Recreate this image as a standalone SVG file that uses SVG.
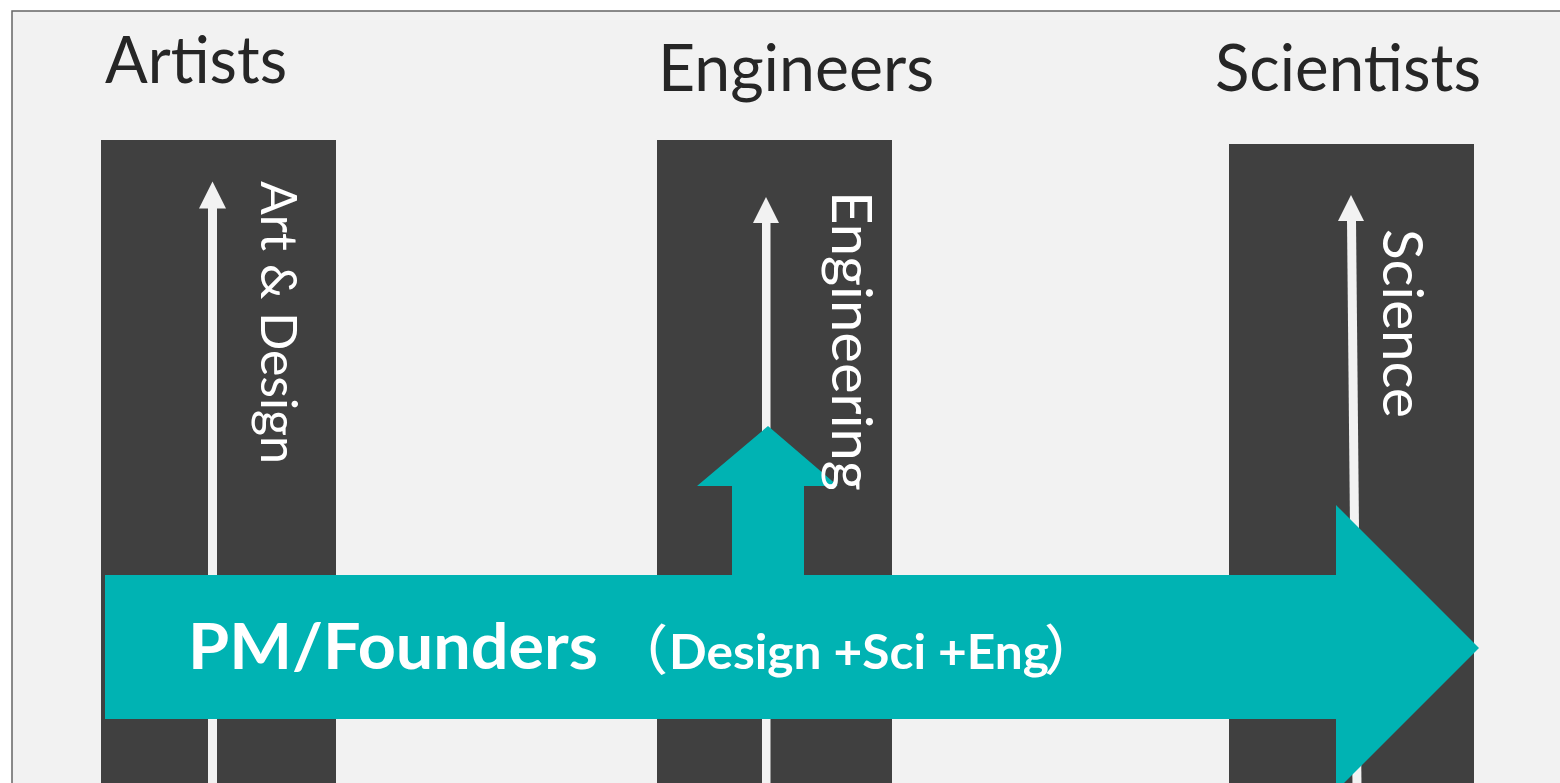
<svg xmlns="http://www.w3.org/2000/svg" width="1560" height="783" viewBox="0 0 1560 783">
  <defs>
    <style>
      .title { font-family: Lato, "Open Sans", sans-serif; font-size: 65px; fill: #262626; }
      .lane { fill: #404040; }
      .track { fill: #f2f2f2; }
      .vlabel { font-family: Lato, "Open Sans", sans-serif; fill: #ffffff; }
      .teal { fill: #00b3b3; }
      .main { font-family: Lato, "Open Sans", "Noto Sans CJK SC", sans-serif; font-weight: bold; fill: #ffffff; }
      .paren { font-family: "Noto Sans CJK SC", "Noto Sans CJK JP", sans-serif; font-weight: 500; fill: #ffffff; }
    </style>
  </defs>

  <!-- canvas and frame -->
  <rect x="0" y="0" width="1560" height="783" fill="#ffffff"/>
  <rect x="12" y="11" width="1560" height="790" fill="#f2f2f2" stroke="#666666" stroke-width="1.5"/>

  <!-- column headings -->
  <g id="artists">
    <text class="title" x="105" y="83" textLength="182" lengthAdjust="spacingAndGlyphs">Artists</text>
    <rect class="lane" x="101" y="140" width="235" height="650"/>
  </g>
  <g id="engineers">
    <text class="title" x="658" y="91" textLength="276" lengthAdjust="spacingAndGlyphs">Engineers</text>
    <rect class="lane" x="657" y="140" width="235" height="650"/>
  </g>
  <g id="scientists">
    <text class="title" x="1215" y="91" textLength="266" lengthAdjust="spacingAndGlyphs">Scientists</text>
    <rect class="lane" x="1229" y="144" width="245" height="650"/>
  </g>

  <!-- vertical growth tracks -->
  <g id="connectors">
    <g id="track-art">
      <rect class="track" x="208" y="207" width="9" height="580"/>
      <polygon class="track" points="199,208.5 212.5,181.5 226,208.5"/>
    </g>
    <g id="track-eng">
      <rect class="track" x="762" y="222" width="8.5" height="565"/>
      <polygon class="track" points="753,223 766,197 779,223"/>
    </g>
    <g id="track-sci">
      <polygon class="track" points="1347,220 1356,220 1361.5,787 1352.5,787"/>
      <polygon class="track" points="1338,221 1351,195 1364,221"/>
    </g>
  </g>

  <!-- founders arrow across all three disciplines -->
  <g id="founders">
    <polygon class="teal" points="732,577 732,486 697,486 768,426 838,486 804,486 804,577"/>
    <polygon class="teal" points="105,575 1336,575 1336,505 1479,648 1336,791 1336,719 105,719"/>
    <text class="main" x="188" y="669" font-size="64" textLength="410" lengthAdjust="spacingAndGlyphs">PM/Founders</text>
    <text class="paren" x="614" y="670" font-size="54">（</text>
    <text class="main" x="669" y="669" font-size="47" textLength="380" lengthAdjust="spacingAndGlyphs">Design +Sci +Eng</text>
    <text class="paren" x="1044" y="670" font-size="54">）</text>
  </g>

  <!-- discipline labels, reading downward -->
  <g id="label-art">
    <text class="vlabel" font-size="51" transform="translate(261,181) rotate(90)" textLength="283" lengthAdjust="spacingAndGlyphs">Art &amp; Design</text>
  </g>
  <g id="label-eng">
    <text class="vlabel" font-size="57" transform="translate(832,191) rotate(90)" textLength="300" lengthAdjust="spacingAndGlyphs">Engineering</text>
  </g>
  <g id="label-sci">
    <text class="vlabel" font-size="56" transform="translate(1383,229) rotate(90)" textLength="189" lengthAdjust="spacingAndGlyphs">Science</text>
  </g>
</svg>
